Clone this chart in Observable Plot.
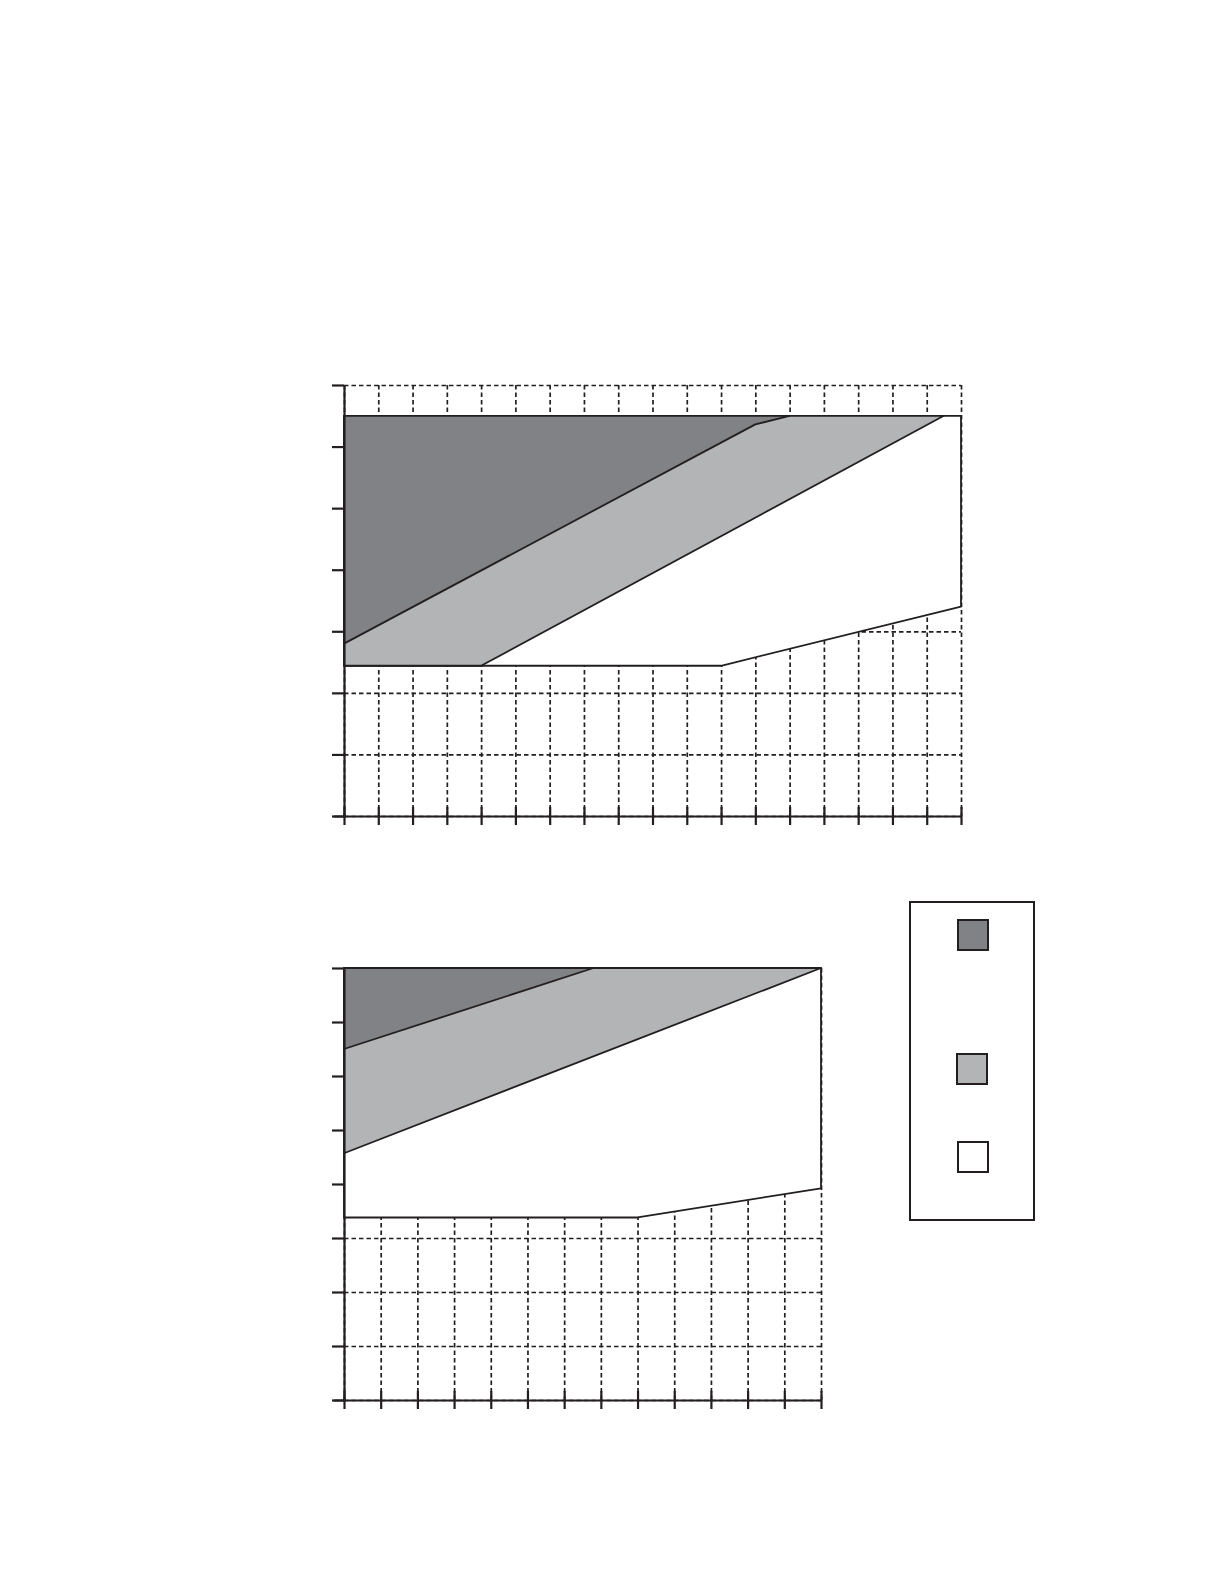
<!DOCTYPE html>
<html>
<head>
<meta charset="utf-8">
<script src="https://cdn.jsdelivr.net/npm/d3@7"></script>
<script src="https://cdn.jsdelivr.net/npm/@observablehq/plot@0.6"></script>
<style>
  html, body { margin: 0; padding: 0; background: #ffffff; }
  #page { position: relative; width: 1224px; height: 1584px; background: #ffffff; overflow: hidden; }
  .chart { position: absolute; left: 0; }
  #legend { position: absolute; left: 909px; top: 901px; width: 122px; height: 316px; border: 2px solid #231f20; background: #fff; }
  .sw { position: absolute; width: 28px; height: 28px; border: 2px solid #231f20; }
</style>
</head>
<body>
<div id="page">
  <div id="legend">
    <div class="sw" style="left:46px; top:16px; background:#808285;"></div>
    <div class="sw" style="left:45px; top:150px; background:#b2b4b6;"></div>
    <div class="sw" style="left:46px; top:238px; background:#ffffff;"></div>
  </div>
</div>
<script>
// ---------- data ----------
// Upper chart (x 0..18, y 0..7)
const topXTicks = d3.range(0, 19);
const topYTicks = d3.range(0, 8);
const topBandTop = 6.5;
const topDarkX = [0, 12, 13];
const topDarkLow = [2.8, 6.36, 6.5];
const topLightX = [0, 4, 17.5];
const topLightLow = [2.44, 2.44, 6.5];
const topWhiteX = [0, 11, 18];
const topWhiteLow = [2.44, 2.44, 3.4];

// Lower chart (x 0..13, y 0..8)
const botXTicks = d3.range(0, 14);
const botYTicks = d3.range(0, 9);
const botBandTop = 8;
const botDarkX = [0, 6.8];
const botDarkLow = [6.5, 8];
const botLightX = [0, 13];
const botLightLow = [4.57, 8];
const botWhiteX = [0, 8, 13];
const botWhiteLow = [3.38, 3.38, 3.92];

const ink = "#231f20";
const darkFill = "#808285";
const lightFill = "#b2b4b6";

function band(xs, lows, top) {
  return xs.map((x, i) => ({x, y1: lows[i], y2: top}));
}

function chart(o) {
  const xMax = o.xTicks[o.xTicks.length - 1];
  const yMax = o.yTicks[o.yTicks.length - 1];
  const svg = Plot.plot({
    width: o.width,
    height: o.height,
    marginLeft: o.ml, marginRight: o.mr, marginTop: o.mt, marginBottom: o.mb,
    style: {background: "transparent", overflow: "visible"},
    x: {domain: [0, xMax], label: null},
    y: {domain: [0, yMax], label: null},
    marks: [
      Plot.gridX({ticks: o.xTicks, stroke: ink, strokeOpacity: 1, strokeWidth: 1.7, strokeDasharray: "4.5,3"}),
      Plot.gridY({ticks: o.yTicks, stroke: ink, strokeOpacity: 1, strokeWidth: 1.7, strokeDasharray: "4.5,3"}),
      Plot.areaY(band(o.whiteX, o.whiteLow, o.top), {x: "x", y1: "y1", y2: "y2", fill: "#ffffff", stroke: ink, strokeWidth: 1.8, curve: "linear"}),
      Plot.areaY(band(o.lightX, o.lightLow, o.top), {x: "x", y1: "y1", y2: "y2", fill: lightFill, stroke: ink, strokeWidth: 1.8, curve: "linear"}),
      Plot.areaY(band(o.darkX, o.darkLow, o.top), {x: "x", y1: "y1", y2: "y2", fill: darkFill, stroke: ink, strokeWidth: 1.8, curve: "linear"}),
      Plot.ruleX([0], {stroke: ink, strokeWidth: 2.2}),
      Plot.ruleY([0], {stroke: ink, strokeWidth: 2.2, insetLeft: -10}),
      Plot.axisX({ticks: o.xTicks, tickSize: 18, dy: -9, tickFormat: () => "", label: null, stroke: ink, strokeWidth: 2.2}),
      Plot.axisY({ticks: o.yTicks, tickSize: 12, tickFormat: () => "", label: null, stroke: ink, strokeWidth: 2.2})
    ]
  });
  svg.classList.add("chart");
  svg.style.top = o.top0 + "px";
  svg.style.left = "0px";
  svg.style.position = "absolute";
  svg.style.maxWidth = "none";
  document.getElementById("page").appendChild(svg);
}

chart({
  xTicks: topXTicks, yTicks: topYTicks, top: topBandTop,
  darkX: topDarkX, darkLow: topDarkLow,
  lightX: topLightX, lightLow: topLightLow,
  whiteX: topWhiteX, whiteLow: topWhiteLow,
  width: 1000, height: 490, ml: 344, mr: 39, mt: 35, mb: 24, top0: 350
});

chart({
  xTicks: botXTicks, yTicks: botYTicks, top: botBandTop,
  darkX: botDarkX, darkLow: botDarkLow,
  lightX: botLightX, lightLow: botLightLow,
  whiteX: botWhiteX, whiteLow: botWhiteLow,
  width: 880, height: 500, ml: 344, mr: 59, mt: 38, mb: 30, top0: 930
});

// keep legend above charts
document.getElementById("page").appendChild(document.getElementById("legend"));
</script>
</body>
</html>
